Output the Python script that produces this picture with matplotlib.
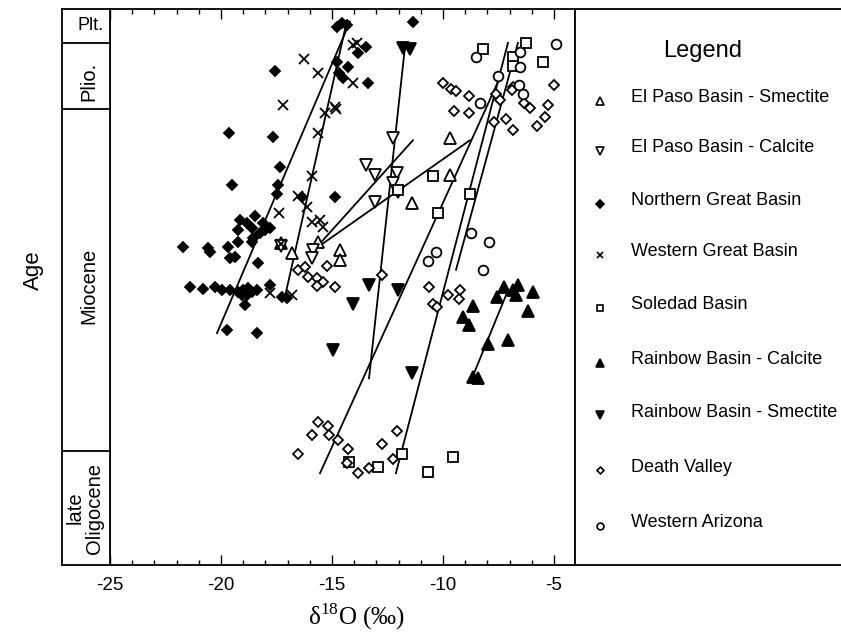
import matplotlib
matplotlib.use('Agg')
import matplotlib.pyplot as plt

plt.rcParams['font.family'] = ['Liberation Sans', 'DejaVu Sans']
plt.rcParams['mathtext.fontset'] = 'custom'
plt.rcParams['mathtext.rm'] = 'Liberation Serif'

# ---------------- data: (d18O permil, relative age position 0=top .. 100=bottom) ----------------
el_paso_smectite = [(-16.80, 43.9), (-14.64, 43.3), (-14.64, 45.1), (-15.63, 41.9), (-9.68, 23.2),
                    (-9.68, 29.9), (-11.40, 34.9), (-17.30, 42.1)]
el_paso_calcite = [(-13.47, 28.1), (-13.06, 29.9), (-13.06, 34.7), (-12.25, 23.2), (-12.07, 29.5),
                   (-12.25, 31.3), (-12.03, 32.9), (-17.30, 42.6), (-15.86, 43.3), (-15.90, 44.8)]
northern_great_basin = [(-14.55, 2.5), (-14.32, 2.9), (-14.77, 3.2), (-11.35, 2.3), (-13.83, 7.9),
                        (-13.47, 6.8), (-17.57, 11.2), (-14.77, 9.5), (-14.28, 10.4), (-14.68, 11.5),
                        (-14.50, 12.4), (-13.38, 13.3), (-19.64, 22.3), (-17.66, 23.0), (-17.34, 28.4),
                        (-19.50, 31.7), (-17.43, 31.7), (-17.48, 33.3), (-16.35, 33.8), (-14.86, 33.8),
                        (-19.14, 37.9), (-18.47, 37.2), (-18.83, 38.5), (-19.23, 39.7), (-18.60, 39.4),
                        (-18.11, 38.5), (-17.79, 39.4), (-18.24, 40.3), (-18.56, 41.2), (-18.60, 41.9),
                        (-18.02, 39.7), (-21.71, 42.8), (-20.59, 43.0), (-20.50, 43.7), (-19.68, 42.8),
                        (-19.23, 41.9), (-19.59, 44.8), (-19.37, 44.6), (-18.33, 45.7), (-21.40, 50.0),
                        (-20.81, 50.4), (-20.27, 50.0), (-19.95, 50.5), (-19.59, 50.5), (-19.23, 50.9),
                        (-19.01, 50.5), (-18.78, 50.2), (-18.60, 50.9), (-18.38, 50.5), (-19.05, 51.4),
                        (-18.83, 51.4), (-18.92, 53.2), (-17.79, 49.6), (-17.25, 51.8), (-17.03, 52.0),
                        (-19.73, 57.7), (-18.38, 58.3)]
western_great_basin = [(-14.05, 6.5), (-13.87, 6.1), (-16.26, 9.0), (-15.63, 11.5), (-14.05, 13.3),
                       (-17.21, 17.3), (-15.32, 18.7), (-14.86, 17.6), (-14.80, 18.0), (-15.63, 22.3),
                       (-15.90, 30.0), (-16.53, 33.6), (-17.39, 36.7), (-16.13, 35.6), (-15.90, 38.3),
                       (-15.54, 37.9), (-15.41, 39.2), (-17.79, 51.1), (-16.80, 51.4), (-17.30, 42.3)]
soledad_basin = [(-8.20, 7.2), (-6.26, 6.1), (-6.85, 8.6), (-6.85, 10.3), (-5.50, 9.5), (-10.45, 30.0),
                 (-8.78, 33.3), (-12.03, 32.6), (-10.23, 36.7), (-14.23, 81.5), (-12.93, 82.4),
                 (-11.85, 80.0), (-9.55, 80.6), (-10.68, 83.3)]
rainbow_calcite = [(-7.25, 50.0), (-6.62, 49.6), (-6.85, 50.5), (-6.71, 51.4), (-5.95, 50.9),
                   (-7.57, 51.8), (-8.65, 53.4), (-6.17, 54.3), (-9.10, 55.4), (-8.83, 56.8),
                   (-7.07, 59.5), (-7.97, 60.3), (-8.65, 66.2), (-8.42, 66.4)]
rainbow_smectite = [(-11.80, 7.0), (-11.49, 7.2), (-13.33, 49.6), (-14.05, 53.1), (-14.95, 61.3),
                    (-12.03, 50.5), (-11.40, 65.5)]
death_valley = [(-10.00, 13.3), (-9.64, 14.4), (-9.41, 14.7), (-8.83, 15.6), (-9.50, 18.3), (-8.83, 18.7),
                (-7.61, 15.3), (-7.43, 16.4), (-6.85, 14.0), (-6.89, 14.6), (-6.35, 16.9), (-6.08, 17.8),
                (-5.27, 17.3), (-5.41, 19.4), (-5.77, 21.0), (-7.16, 19.8), (-7.70, 20.3), (-6.85, 21.8),
                (-5.00, 13.7), (-16.53, 46.9), (-16.22, 46.4), (-16.08, 48.2), (-15.68, 48.4),
                (-15.41, 49.1), (-15.68, 49.8), (-15.23, 46.2), (-14.86, 50.0), (-12.75, 47.8),
                (-10.63, 50.0), (-10.45, 53.1), (-10.27, 53.6), (-9.77, 51.4), (-9.23, 50.5), (-9.28, 52.2),
                (-15.63, 74.3), (-15.18, 75.0), (-15.90, 76.6), (-15.14, 76.6), (-14.73, 77.5),
                (-16.53, 80.0), (-14.28, 79.1), (-14.32, 81.7), (-13.83, 83.5), (-13.33, 82.6),
                (-12.75, 78.2), (-12.07, 75.9), (-12.25, 80.9)]
western_arizona = [(-8.51, 8.6), (-6.53, 7.7), (-6.53, 10.4), (-4.91, 6.3), (-7.52, 12.1), (-8.33, 16.9),
                   (-6.58, 13.7), (-6.40, 15.3), (-8.74, 40.3), (-7.93, 41.9), (-10.32, 43.7),
                   (-10.68, 45.3), (-8.20, 46.9)]

# trend lines: ((x_old, age_old), (x_young, age_young))
trend_lines = [
    ((-20.18, 58.3), (-14.19, 2.3)),    # Northern Great Basin
    ((-17.12, 51.8), (-14.37, 2.9)),    # Western Great Basin
    ((-15.63, 42.8), (-8.78, 23.6)),    # El Paso A
    ((-15.77, 43.2), (-11.35, 23.6)),   # El Paso B
    ((-13.33, 66.4), (-11.71, 6.8)),    # Rainbow smectite
    ((-15.54, 83.5), (-7.52, 13.1)),    # Death Valley
    ((-12.12, 83.5), (-7.07, 6.1)),     # Soledad
    ((-9.41, 46.9), (-6.62, 6.1)),      # Western Arizona
    ((-8.69, 66.4), (-7.12, 51.1)),     # Rainbow calcite
]

epochs = ['Plt.', 'Plio.', 'Miocene', 'late\nOligocene']
epoch_bounds = [0.0, 6.1, 18.0, 79.5, 100.0]

x_ticks = [-25, -20, -15, -10, -5]

series = [
    ('El Paso Basin - Smectite', el_paso_smectite, dict(marker='^', ms=8, mfc='white')),
    ('El Paso Basin - Calcite', el_paso_calcite, dict(marker='v', ms=8, mfc='white')),
    ('Northern Great Basin', northern_great_basin, dict(marker='D', ms=5.3, mfc='black')),
    ('Western Great Basin', western_great_basin, dict(marker='x', ms=7, mfc='black')),
    ('Soledad Basin', soledad_basin, dict(marker='s', ms=7, mfc='white')),
    ('Rainbow Basin - Calcite', rainbow_calcite, dict(marker='^', ms=8, mfc='black')),
    ('Rainbow Basin - Smectite', rainbow_smectite, dict(marker='v', ms=8, mfc='black')),
    ('Death Valley', death_valley, dict(marker='D', ms=5.0, mfc='white')),
    ('Western Arizona', western_arizona, dict(marker='o', ms=7, mfc='white')),
]

W, H = 841, 632
fig = plt.figure(figsize=(W / 100, H / 100), dpi=100)

def frac(x0, y0, x1, y1):
    return [x0 / W, 1 - y1 / H, (x1 - x0) / W, (y1 - y0) / H]

ax = fig.add_axes(frac(110, 9, 575, 565))
axs = fig.add_axes(frac(62, 9, 110, 565))
axl = fig.add_axes(frac(575, 9, 841, 565))

lw = 1.3
# main axes
for (p0, p1) in trend_lines:
    ax.plot([p0[0], p1[0]], [p0[1], p1[1]], color='black', lw=1.3, zorder=2)
for name, pts, st in series:
    xs = [p[0] for p in pts]
    ys = [p[1] for p in pts]
    ax.plot(xs, ys, linestyle='none', color='black', mec='black', mew=1.3, zorder=3, **st)

ax.set_xlim(-25, -4.05)
ax.set_ylim(100, 0)
ax.set_xticks(x_ticks)
ax.set_xticklabels([str(t) for t in x_ticks])
ax.set_xticks(range(-24, -4), minor=True)
ax.set_yticks([])
ax.tick_params(axis='x', which='major', direction='in', length=7, width=1.0, top=True,
               labelsize=13.5, pad=9)
ax.tick_params(axis='x', which='minor', direction='in', length=3.5, width=1.0, top=True)
for s in ax.spines.values():
    s.set_linewidth(lw)

# stratigraphic column
axs.set_xlim(0, 1)
axs.set_ylim(100, 0)
axs.set_xticks([])
axs.set_yticks([])
for s in axs.spines.values():
    s.set_linewidth(lw)
for b in epoch_bounds[1:-1]:
    axs.plot([0, 1], [b, b], color='black', lw=lw)
for i, lab in enumerate(epochs):
    mid = (epoch_bounds[i] + epoch_bounds[i + 1]) / 2
    if lab == 'Plt.':
        axs.text(0.6, mid, lab, ha='center', va='center', fontsize=13)
    elif '\n' in lab:
        axs.text(0.47, mid, lab, ha='center', va='center', rotation=90, fontsize=14.5,
                 linespacing=1.0)
    else:
        axs.text(0.57, mid + 1.0, lab, ha='center', va='center', rotation=90, fontsize=14.5)

# legend panel
axl.set_xlim(0, 1)
axl.set_ylim(0, 1)
axl.set_xticks([])
axl.set_yticks([])
axl.spines['right'].set_visible(False)
for s in axl.spines.values():
    s.set_linewidth(lw)
axl.text(0.48, 0.925, 'Legend', ha='center', va='center', fontsize=17)
leg_y = [0.840, 0.750, 0.656, 0.563, 0.468, 0.369, 0.275, 0.176, 0.077]
for (name, pts, st), yy in zip(series, leg_y):
    st2 = dict(st)
    st2['ms'] = st['ms'] * 0.7
    axl.plot([0.094], [yy - 0.006], linestyle='none', color='black', mec='black', mew=1.2,
             clip_on=False, **st2)
    axl.text(0.21, yy, name, ha='left', va='center', fontsize=13)

fig.text(33 / W, 1 - 270 / H, 'Age', rotation=90, ha='center', va='center', fontsize=16)
fig.text(357 / W, 1 - 617 / H, r'δ$^{18}$O (‰)', ha='center', va='center', fontsize=18,
         family=['Liberation Serif', 'DejaVu Serif'])

fig.savefig('out.png', dpi=100)
